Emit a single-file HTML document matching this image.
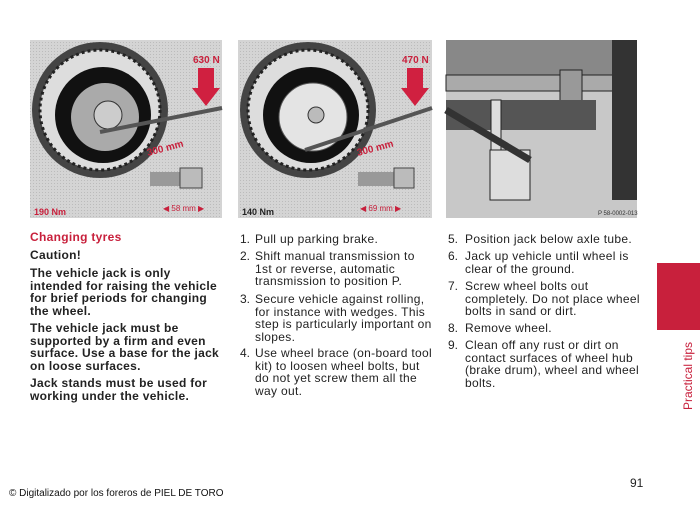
<!DOCTYPE html>
<html><head><meta charset="utf-8"><style>
body{margin:0;width:700px;height:508px;background:#fff;position:relative;overflow:hidden;font-family:"Liberation Sans",Arial,sans-serif;color:#222}
.a{position:absolute;font-size:12px;line-height:12.6px;letter-spacing:0.32px;white-space:nowrap}
.b{font-weight:bold;letter-spacing:0.3px}
.n{position:absolute;font-size:12px;line-height:12.6px}
</style></head><body>
<svg width="700" height="230" style="position:absolute;left:0;top:0">
<defs><pattern id="g" width="3" height="3" patternUnits="userSpaceOnUse"><rect width="3" height="3" fill="#d4d4d4"/><rect width="1" height="1" fill="#bbb"/></pattern></defs>
<rect x="30" y="40" width="192" height="178" fill="url(#g)"/>
<circle cx="100" cy="110" r="68" fill="#444"/><circle cx="100" cy="110" r="60" fill="#ddd" stroke="#222" stroke-width="3" stroke-dasharray="3 3"/>
<circle cx="103" cy="115" r="48" fill="#111"/><circle cx="105" cy="117" r="34" fill="#aaa"/><circle cx="108" cy="115" r="14" fill="#ccc" stroke="#333"/>
<line x1="100" y1="132" x2="222" y2="108" stroke="#555" stroke-width="4"/>
<rect x="198" y="68" width="16" height="22" fill="#d02040"/><polygon points="192,88 220,88 206,106" fill="#d02040"/>
<text x="193" y="63" font-family="Liberation Sans" font-weight="bold" font-size="10" fill="#c8203c">630 N</text>
<text x="148" y="156" font-family="Liberation Sans" font-weight="bold" font-size="10" fill="#c8203c" transform="rotate(-15 148 156)">300 mm</text>
<rect x="150" y="172" width="30" height="14" fill="#999"/><rect x="180" y="168" width="22" height="20" fill="#bbb" stroke="#444"/>
<text x="34" y="215" font-family="Liberation Sans" font-weight="bold" font-size="9" fill="#c8203c">190 Nm</text>
<text x="163" y="211" font-family="Liberation Sans" font-size="8" fill="#c8203c">◀ 58 mm ▶</text>
<rect x="238" y="40" width="194" height="178" fill="url(#g)"/>
<circle cx="308" cy="110" r="68" fill="#444"/><circle cx="308" cy="110" r="60" fill="#ddd" stroke="#222" stroke-width="3" stroke-dasharray="3 3"/>
<circle cx="311" cy="115" r="48" fill="#111"/><circle cx="313" cy="117" r="34" fill="#e4e4e4" stroke="#555"/><circle cx="316" cy="115" r="8" fill="#bbb" stroke="#333"/>
<line x1="305" y1="150" x2="432" y2="108" stroke="#555" stroke-width="4"/>
<rect x="407" y="68" width="16" height="22" fill="#d02040"/><polygon points="401,88 429,88 415,106" fill="#d02040"/>
<text x="402" y="63" font-family="Liberation Sans" font-weight="bold" font-size="10" fill="#c8203c">470 N</text>
<text x="358" y="156" font-family="Liberation Sans" font-weight="bold" font-size="10" fill="#c8203c" transform="rotate(-15 358 156)">300 mm</text>
<rect x="358" y="172" width="36" height="14" fill="#999"/><rect x="394" y="168" width="20" height="20" fill="#bbb" stroke="#444"/>
<text x="242" y="215" font-family="Liberation Sans" font-weight="bold" font-size="9" fill="#222">140 Nm</text>
<text x="360" y="211" font-family="Liberation Sans" font-size="8" fill="#c8203c">◀ 69 mm ▶</text>
<rect x="446" y="40" width="191" height="178" fill="#c8c8c8"/>
<rect x="446" y="40" width="170" height="40" fill="#888"/>
<rect x="446" y="75" width="170" height="16" fill="#aaa" stroke="#222"/>
<rect x="560" y="70" width="22" height="45" fill="#999" stroke="#222"/>
<rect x="446" y="100" width="150" height="30" fill="#555"/>
<rect x="612" y="40" width="25" height="160" fill="#333"/>
<rect x="491" y="100" width="10" height="50" fill="#ddd" stroke="#222"/>
<rect x="490" y="150" width="40" height="50" fill="#ddd" stroke="#222"/>
<line x1="446" y1="110" x2="530" y2="160" stroke="#333" stroke-width="7"/>
<text x="598" y="215" font-family="Liberation Sans" font-size="6" fill="#333">P 58-0002-013</text>
</svg>
<div class="a b" style="left:30px;top:231px;color:#c8203c;font-size:12px">Changing tyres</div>
<div class="a b" style="left:30px;top:249px">Caution!</div>
<div class="a b" style="left:30px;top:267px">The vehicle jack is only<br>intended for raising the vehicle<br>for brief periods for changing<br>the wheel.</div>
<div class="a b" style="left:30px;top:322px">The vehicle jack must be<br>supported by a firm and even<br>surface. Use a base for the jack<br>on loose surfaces.</div>
<div class="a b" style="left:30px;top:377px">Jack stands must be used for<br>working under the vehicle.</div>

<div class="n" style="left:240px;top:233px">1.</div><div class="a" style="left:255px;top:233px">Pull up parking brake.</div>
<div class="n" style="left:240px;top:250px">2.</div><div class="a" style="left:255px;top:250px">Shift manual transmission to<br>1st or reverse, automatic<br>transmission to position P.</div>
<div class="n" style="left:240px;top:293px">3.</div><div class="a" style="left:255px;top:293px">Secure vehicle against rolling,<br>for instance with wedges. This<br>step is particularly important on<br>slopes.</div>
<div class="n" style="left:240px;top:347px">4.</div><div class="a" style="left:255px;top:347px">Use wheel brace (on-board tool<br>kit) to loosen wheel bolts, but<br>do not yet screw them all the<br>way out.</div>

<div class="n" style="left:448px;top:233px">5.</div><div class="a" style="left:465px;top:233px">Position jack below axle tube.</div>
<div class="n" style="left:448px;top:250px">6.</div><div class="a" style="left:465px;top:250px">Jack up vehicle until wheel is<br>clear of the ground.</div>
<div class="n" style="left:448px;top:280px">7.</div><div class="a" style="left:465px;top:280px">Screw wheel bolts out<br>completely. Do not place wheel<br>bolts in sand or dirt.</div>
<div class="n" style="left:448px;top:322px">8.</div><div class="a" style="left:465px;top:322px">Remove wheel.</div>
<div class="n" style="left:448px;top:339px">9.</div><div class="a" style="left:465px;top:339px">Clean off any rust or dirt on<br>contact surfaces of wheel hub<br>(brake drum), wheel and wheel<br>bolts.</div>

<div style="position:absolute;left:657px;top:263px;width:43px;height:67px;background:#c8203c"></div>
<div style="position:absolute;left:681px;top:410px;transform:rotate(-90deg);transform-origin:0 0;font-size:12px;color:#c8203c;white-space:nowrap">Practical tips</div>
<div style="position:absolute;left:630px;top:476px;font-size:12px">91</div>
<div style="position:absolute;left:9px;top:488px;font-size:10px;color:#111">© Digitalizado por los foreros de PIEL DE TORO</div>
</body></html>
